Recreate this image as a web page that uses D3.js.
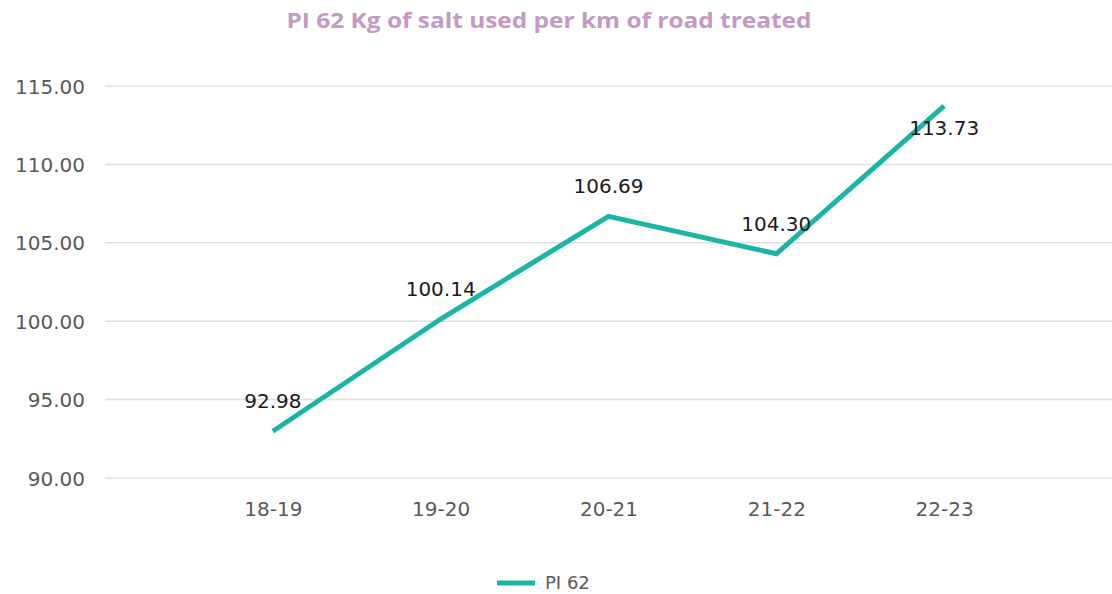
<!DOCTYPE html>
<html>
<head>
<meta charset="utf-8">
<script src="https://cdn.jsdelivr.net/npm/d3@7"></script>
<style>
  body { margin: 0; background: #fff; }
  svg { display: block; }
</style>
</head>
<body>
<svg id="chart" width="1112" height="594"></svg>
<script>
const categories = ["18-19", "19-20", "20-21", "21-22", "22-23"];
const values = [92.98, 100.14, 106.69, 104.30, 113.73];
const yTicks = [90, 95, 100, 105, 110, 115];
const seriesName = "PI 62";
const title = "PI 62 Kg of salt used per km of road treated";

const width = 1112, height = 594;
const margin = { top: 86, right: 0, bottom: 116, left: 105 };
const teal = "#1ab5a5";

let svg = d3.select("#chart");

let x = d3.scalePoint()
  .domain(categories)
  .range([margin.left, width - margin.right])
  .padding(1);

let y = d3.scaleLinear()
  .domain([90, 115])
  .range([height - margin.bottom, margin.top]);

// title
svg.append("text")
  .attr("x", 549)
  .attr("y", 28)
  .attr("text-anchor", "middle")
  .attr("fill", "#c39ac3")
  .attr("font-family", "'Open Sans', sans-serif")
  .attr("font-weight", 700)
  .attr("font-size", 21)
  .attr("textLength", 525)
  .attr("lengthAdjust", "spacingAndGlyphs")
  .text(title);

// gridlines
svg.append("g")
  .attr("class", "grid")
  .selectAll("line")
  .data(yTicks)
  .enter()
  .append("line")
  .attr("x1", margin.left)
  .attr("x2", width)
  .attr("y1", d => y(d))
  .attr("y2", d => y(d))
  .attr("stroke", "#e0e0e0")
  .attr("stroke-width", 1.5);

// y axis labels
let yAxis = svg.append("g")
  .attr("transform", `translate(${margin.left - 20}, 0)`)
  .call(d3.axisLeft(y).tickValues(yTicks).tickFormat(d3.format(".2f")).tickSize(0).tickPadding(0));
yAxis.select(".domain").remove();
yAxis.selectAll("text")
  .attr("fill", "#595959")
  .attr("font-family", "'DejaVu Sans', sans-serif")
  .attr("font-size", 20)
  .attr("dy", "0.35em");

// x axis labels
let xAxis = svg.append("g")
  .attr("transform", `translate(0, ${height - margin.bottom + 24})`)
  .call(d3.axisBottom(x).tickSize(0).tickPadding(0));
xAxis.select(".domain").remove();
xAxis.selectAll("text")
  .attr("fill", "#595959")
  .attr("font-family", "'DejaVu Sans', sans-serif")
  .attr("font-size", 20)
  .attr("dy", "0.71em");

// line
let line = d3.line()
  .x((d, i) => x(categories[i]))
  .y(d => y(d));

svg.append("path")
  .datum(values)
  .attr("d", line)
  .attr("fill", "none")
  .attr("stroke", teal)
  .attr("stroke-width", 5)
  .attr("stroke-linejoin", "miter");

// data labels
svg.append("g")
  .selectAll("text")
  .data(values)
  .enter()
  .append("text")
  .attr("x", (d, i) => x(categories[i]))
  .attr("y", d => Math.max(y(d) - 30, y(115) + 42))
  .attr("dy", "0.35em")
  .attr("text-anchor", "middle")
  .attr("fill", "#1a1a1a")
  .attr("font-family", "'DejaVu Sans', sans-serif")
  .attr("font-size", 20)
  .text(d => d3.format(".2f")(d));

// legend
let legend = svg.append("g").attr("transform", "translate(497, 583)");
legend.append("line")
  .attr("x1", 0).attr("x2", 38)
  .attr("y1", 0).attr("y2", 0)
  .attr("stroke", teal)
  .attr("stroke-width", 5);
legend.append("text")
  .attr("x", 48)
  .attr("y", 0)
  .attr("dy", "0.35em")
  .attr("fill", "#595959")
  .attr("font-family", "'DejaVu Sans', sans-serif")
  .attr("font-size", 18)
  .text(seriesName);
</script>
</body>
</html>
